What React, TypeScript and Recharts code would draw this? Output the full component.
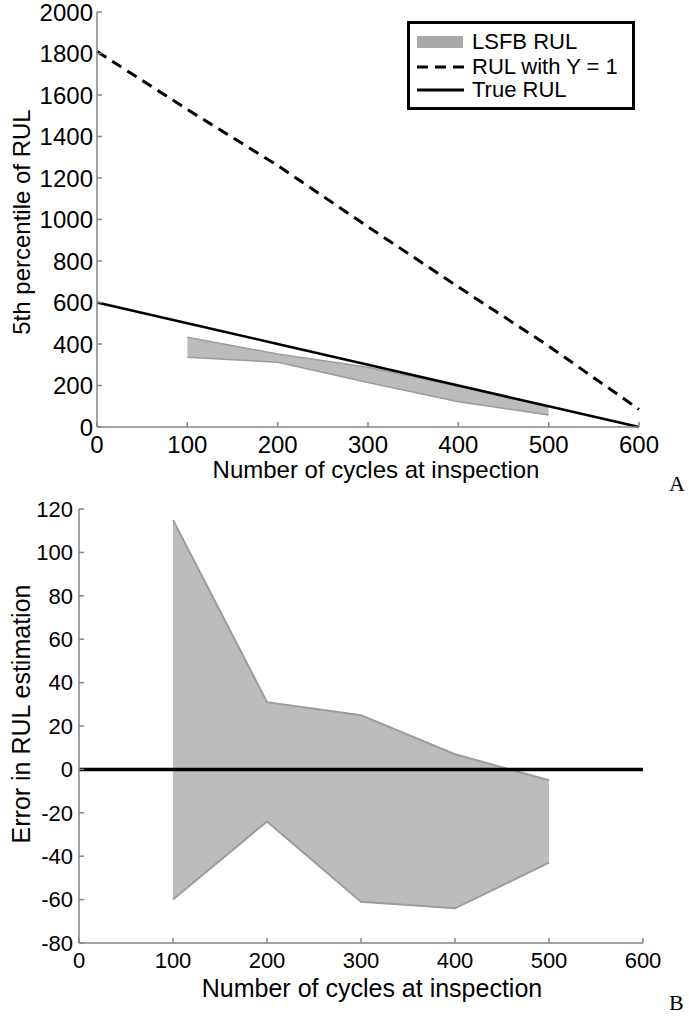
import React from "react";
import {
  ComposedChart,
  Area,
  Line,
  XAxis,
  YAxis,
  Legend,
  ReferenceLine,
} from "recharts";

// inspection points (cycles)
const cycles = [0, 100, 200, 300, 400, 500, 600];
const cycleTicks = [0, 100, 200, 300, 400, 500, 600];

// panel A: 5th percentile of RUL
const trueRul = [600, 500, 400, 300, 200, 100, 0];
const rulGammaOne = [1810, 1530, 1260, 965, 675, 390, 85];
const lsfbUpper = [null, 432, 352, 288, 196, 96, null];
const lsfbLower = [null, 336, 312, 214, 122, 58, null];
const rulTicks = [0, 200, 400, 600, 800, 1000, 1200, 1400, 1600, 1800, 2000];

// panel B: error in RUL estimation
const errUpper = [null, 115, 31, 25, 7, -5, null];
const errLower = [null, -60, -24, -61, -64, -43, null];
const errTicks = [-80, -60, -40, -20, 0, 20, 40, 60, 80, 100, 120];

const FONT = '"Liberation Sans", Arial, sans-serif';
const FRAME = "#858585";
const BAND_FILL = "#bcbcbc";
const BAND_STROKE = "#9c9c9c";

const rulRows = cycles.map((x, i) => ({
  x,
  trueRul: trueRul[i],
  rulGammaOne: rulGammaOne[i],
  lsfb: lsfbUpper[i] == null ? null : [lsfbLower[i], lsfbUpper[i]],
}));

const errRows = cycles.map((x, i) => ({
  x,
  err: errUpper[i] == null ? null : [errLower[i], errUpper[i]],
}));

function LegendSwatch({ kind }: { kind: string }) {
  if (kind === "lsfb") {
    return (
      <svg width={52} height={20}>
        <rect x={0} y={4} width={46} height={12} fill="#a8a8a8" />
      </svg>
    );
  }
  return (
    <svg width={52} height={20}>
      <line
        x1={0}
        y1={10}
        x2={kind === "rulGammaOne" ? 50 : 47}
        y2={10}
        stroke="#000"
        strokeWidth={3}
        strokeDasharray={kind === "rulGammaOne" ? "11 7" : undefined}
      />
    </svg>
  );
}

function RulLegend(props: any) {
  const rows = [18, 43, 66];
  return (
    <div
      style={{
        position: "relative",
        width: 228,
        height: 89,
        border: "3px solid #000",
        boxSizing: "border-box",
        background: "#fff",
        fontSize: 22,
        color: "#000",
      }}
    >
      {(props.payload || []).map((entry: any, i: number) => (
        <div key={entry.value} style={{ position: "absolute", left: 7, top: rows[i] - 12, height: 24, display: "flex", alignItems: "center" }}>
          <LegendSwatch kind={String(entry.dataKey)} />
          <span style={{ marginLeft: 3, lineHeight: "24px", whiteSpace: "nowrap" }}>{entry.value}</span>
        </div>
      ))}
    </div>
  );
}

const tickStyle = (size: number) => ({ fill: "#000", fontSize: size, fontFamily: FONT });

function RulPanel() {
  return (
    <ComposedChart width={689} height={500} data={rulRows} margin={{ top: 12, right: 50, left: 0, bottom: 0 }}>
      <XAxis
        dataKey="x"
        type="number"
        domain={[0, 600]}
        ticks={cycleTicks}
        interval={0}
        height={73}
        tickSize={-5}
        tickMargin={14}
        stroke={FRAME}
        strokeWidth={1.5}
        tick={tickStyle(24)}
        label={{
          content: () => (
            <text x={376} y={478} textAnchor="middle" fontSize={24} fill="#000" fontFamily={FONT}>
              Number of cycles at inspection
            </text>
          ),
        }}
      />
      <XAxis xAxisId="top" orientation="top" dataKey="x" type="number" domain={[0, 600]} ticks={cycleTicks} height={0} tickSize={-5} tick={false} stroke={FRAME} strokeWidth={1.5} />
      <YAxis
        type="number"
        domain={[0, 2000]}
        ticks={rulTicks}
        interval={0}
        width={97}
        tickSize={-5}
        tickMargin={9}
        stroke={FRAME}
        strokeWidth={1.5}
        tick={tickStyle(24)}
        label={{
          content: () => (
            <text x={21} y={222} transform="rotate(-90 21 222)" textAnchor="middle" dominantBaseline="central" fontSize={24} fill="#000" fontFamily={FONT}>
              5th percentile of RUL
            </text>
          ),
        }}
      />
      <YAxis yAxisId="right" orientation="right" type="number" domain={[0, 2000]} ticks={rulTicks} width={0} tickSize={-5} tick={false} stroke={FRAME} strokeWidth={1.5} />
      <Area
        dataKey="lsfb"
        name="LSFB RUL"
        type="linear"
        fill={BAND_FILL}
        fillOpacity={1}
        stroke={BAND_STROKE}
        strokeWidth={1.5}
        isAnimationActive={false}
      />
      <Line dataKey="rulGammaOne" name="RUL with Y = 1" type="linear" stroke="#000" strokeWidth={3} strokeDasharray="11 7" dot={false} isAnimationActive={false} />
      <Line dataKey="trueRul" name="True RUL" type="linear" stroke="#000" strokeWidth={2.5} dot={false} isAnimationActive={false} />
      <Legend
        layout="horizontal"
        verticalAlign="middle"
        align="center"
        content={(p: any) => <RulLegend {...p} />}
        wrapperStyle={{ left: 407, top: 21, width: 228, height: 89 }}
      />
    </ComposedChart>
  );
}

function ErrorPanel() {
  return (
    <ComposedChart width={689} height={527} data={errRows} margin={{ top: 19, right: 46, left: 0, bottom: 0 }}>
      <XAxis
        dataKey="x"
        type="number"
        domain={[0, 600]}
        ticks={cycleTicks}
        interval={0}
        height={74}
        tickSize={-5}
        tickMargin={14}
        stroke={FRAME}
        strokeWidth={1.5}
        tick={tickStyle(22)}
        label={{
          content: () => (
            <text x={372} y={507} textAnchor="middle" fontSize={25} fill="#000" fontFamily={FONT}>
              Number of cycles at inspection
            </text>
          ),
        }}
      />
      <XAxis xAxisId="top" orientation="top" dataKey="x" type="number" domain={[0, 600]} ticks={cycleTicks} height={0} tickSize={-5} tick={false} stroke={FRAME} strokeWidth={1.5} />
      <YAxis
        type="number"
        domain={[-80, 120]}
        ticks={errTicks}
        interval={0}
        width={79}
        tickSize={-5}
        tickMargin={11}
        stroke={FRAME}
        strokeWidth={1.5}
        tick={tickStyle(22)}
        label={{
          content: () => (
            <text x={21} y={224} transform="rotate(-90 21 224)" textAnchor="middle" dominantBaseline="central" fontSize={25} fill="#000" fontFamily={FONT}>
              Error in RUL estimation
            </text>
          ),
        }}
      />
      <YAxis yAxisId="right" orientation="right" type="number" domain={[-80, 120]} ticks={errTicks} width={0} tickSize={-5} tick={false} stroke={FRAME} strokeWidth={1.5} />
      <Area
        dataKey="err"
        type="linear"
        fill={BAND_FILL}
        fillOpacity={1}
        stroke={BAND_STROKE}
        strokeWidth={2}
        isAnimationActive={false}
      />
      <ReferenceLine y={0} stroke="#000" strokeWidth={3.5} />
    </ComposedChart>
  );
}

const panelTag: React.CSSProperties = {
  position: "absolute",
  left: 669,
  fontFamily: '"Liberation Serif", "Times New Roman", serif',
  fontSize: 22,
  lineHeight: "22px",
  color: "#000",
};

export default function App() {
  return (
    <div style={{ position: "absolute", left: 0, top: 0, width: 689, height: 1017, background: "#fff", fontFamily: FONT, overflow: "hidden" }}>
      <div style={{ position: "absolute", left: 0, top: 0 }}>
        <RulPanel />
      </div>
      <div style={{ position: "absolute", left: 0, top: 490 }}>
        <ErrorPanel />
      </div>
      <div style={{ ...panelTag, top: 473 }}>A</div>
      <div style={{ ...panelTag, top: 992 }}>B</div>
    </div>
  );
}
